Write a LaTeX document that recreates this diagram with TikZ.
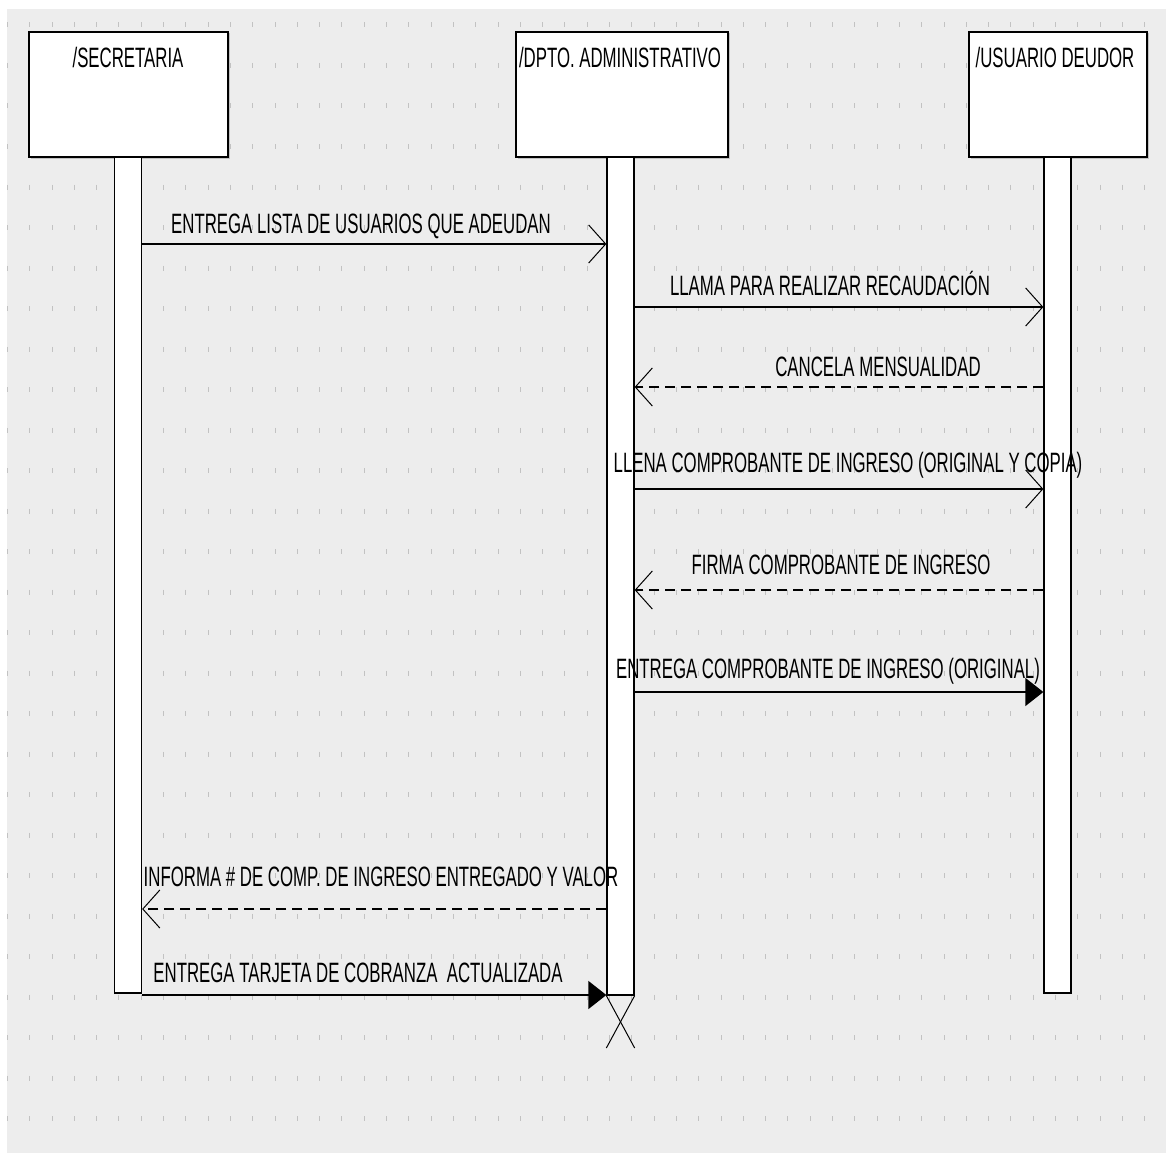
\documentclass[tikz,border=0pt]{standalone}
\usepackage{fontspec}
\setmainfont[FakeStretch=0.6]{Liberation Sans}
\usetikzlibrary{arrows.meta,shadows}

\definecolor{fondo}{HTML}{EDEDED}
\definecolor{punto}{HTML}{C2C2C2}

\begin{document}
\begin{tikzpicture}[x=1pt,y=-1pt,
    caja/.style={draw,line width=1.3pt,fill=white,inner sep=0pt,minimum height=125pt,
        drop shadow={shadow xshift=1.5pt,shadow yshift=-1.5pt,opacity=.4}},
    barra/.style={draw,line width=1.3pt,fill=white,inner sep=0pt,minimum width=27pt},
    texto/.style={anchor=base,inner sep=0pt,font=\fontsize{28pt}{32pt}\selectfont},
    llamada/.style={line width=1.3pt,-{Straight Barb[length=17pt,width=38pt,line width=1pt]}},
    respuesta/.style={llamada,dash pattern=on 10pt off 6pt},
    envio/.style={line width=1.3pt,-{Triangle[length=18pt,width=28pt]}}]
    \useasboundingbox (0,0) rectangle (1166,1153);
    \fill[white] (0,0) rectangle (1166,1153);
    \fill[fondo] (7,9) rectangle (1166,1153);

    % rejilla
    \foreach \f in {0,...,27}
        \foreach \c in {0,...,51}
            \draw[punto,line width=0.8pt] ({7.3+22.3*\c},{22.5+40.5*\f}) -- ++(0,5);

    % objetos
    \node [caja, minimum width=199pt, at={(128.5,94.5)}] (sec) {};
    \node [caja, minimum width=212pt, at={(622,94.5)}] (dpto) {};
    \node [caja, minimum width=178pt, at={(1058,94.5)}] (usu) {};
    \node [texto, at={(128,68)}] (sectxt) {/SECRETARIA};
    \node [texto, at={(620,68)}] (dptotxt) {/DPTO. ADMINISTRATIVO};
    \node [texto, at={(1055,68)}] (usutxt) {/USUARIO DEUDOR};

    % lineas de vida
    \node [barra, minimum height=836pt, at={(128,575)}] (secbar) {};
    \node [barra, minimum height=838pt, at={(620.5,576)}] (dptobar) {};
    \node [barra, minimum height=836pt, at={(1057.5,575)}] (usubar) {};

    % mensajes
    \coordinate (m1) at (0,244);
    \coordinate (m2) at (0,307);
    \coordinate (m3) at (0,387);
    \coordinate (m4) at (0,489);
    \coordinate (m5) at (0,590);
    \coordinate (m6) at (0,692);
    \coordinate (m7) at (0,909);
    \coordinate (m8) at (0,995);
    \draw[llamada] (secbar.east |- m1) -- (dptobar.west |- m1);
    \draw[llamada] (dptobar.east |- m2) -- (usubar.west |- m2);
    \draw[respuesta] (usubar.west |- m3) -- (dptobar.east |- m3);
    \draw[llamada] (dptobar.east |- m4) -- (usubar.west |- m4);
    \draw[respuesta] (usubar.west |- m5) -- (dptobar.east |- m5);
    \draw[envio] (dptobar.east |- m6) -- (usubar.west |- m6);
    \draw[respuesta] (dptobar.west |- m7) -- (secbar.east |- m7);
    \draw[envio] (secbar.east |- m8) -- (dptobar.west |- m8);

    % fin del departamento
    \coordinate (fin) at (0,1048);
    \draw[line width=1pt] (dptobar.south west) -- (dptobar.east |- fin);
    \draw[line width=1pt] (dptobar.south east) -- (dptobar.west |- fin);

    \node [texto, at={(361,233)}] (t1) {ENTREGA LISTA DE USUARIOS QUE ADEUDAN};
    \node [texto, at={(830,295)}] (t2) {LLAMA PARA REALIZAR RECAUDACIÓN};
    \node [texto, at={(878,376)}] (t3) {CANCELA MENSUALIDAD};
    \node [texto, at={(848,472)}] (t4) {LLENA COMPROBANTE DE INGRESO (ORIGINAL Y COPIA)};
    \node [texto, at={(841,574)}] (t5) {FIRMA COMPROBANTE DE INGRESO};
    \node [texto, at={(828,678)}] (t6) {ENTREGA COMPROBANTE DE INGRESO (ORIGINAL)};
    \node [texto, at={(381,886)}] (t7) {INFORMA \# DE COMP. DE INGRESO ENTREGADO Y VALOR};
    \node [texto, at={(358,982)}] (t8) {ENTREGA TARJETA DE COBRANZA\ \ ACTUALIZADA};
\end{tikzpicture}
\end{document}
